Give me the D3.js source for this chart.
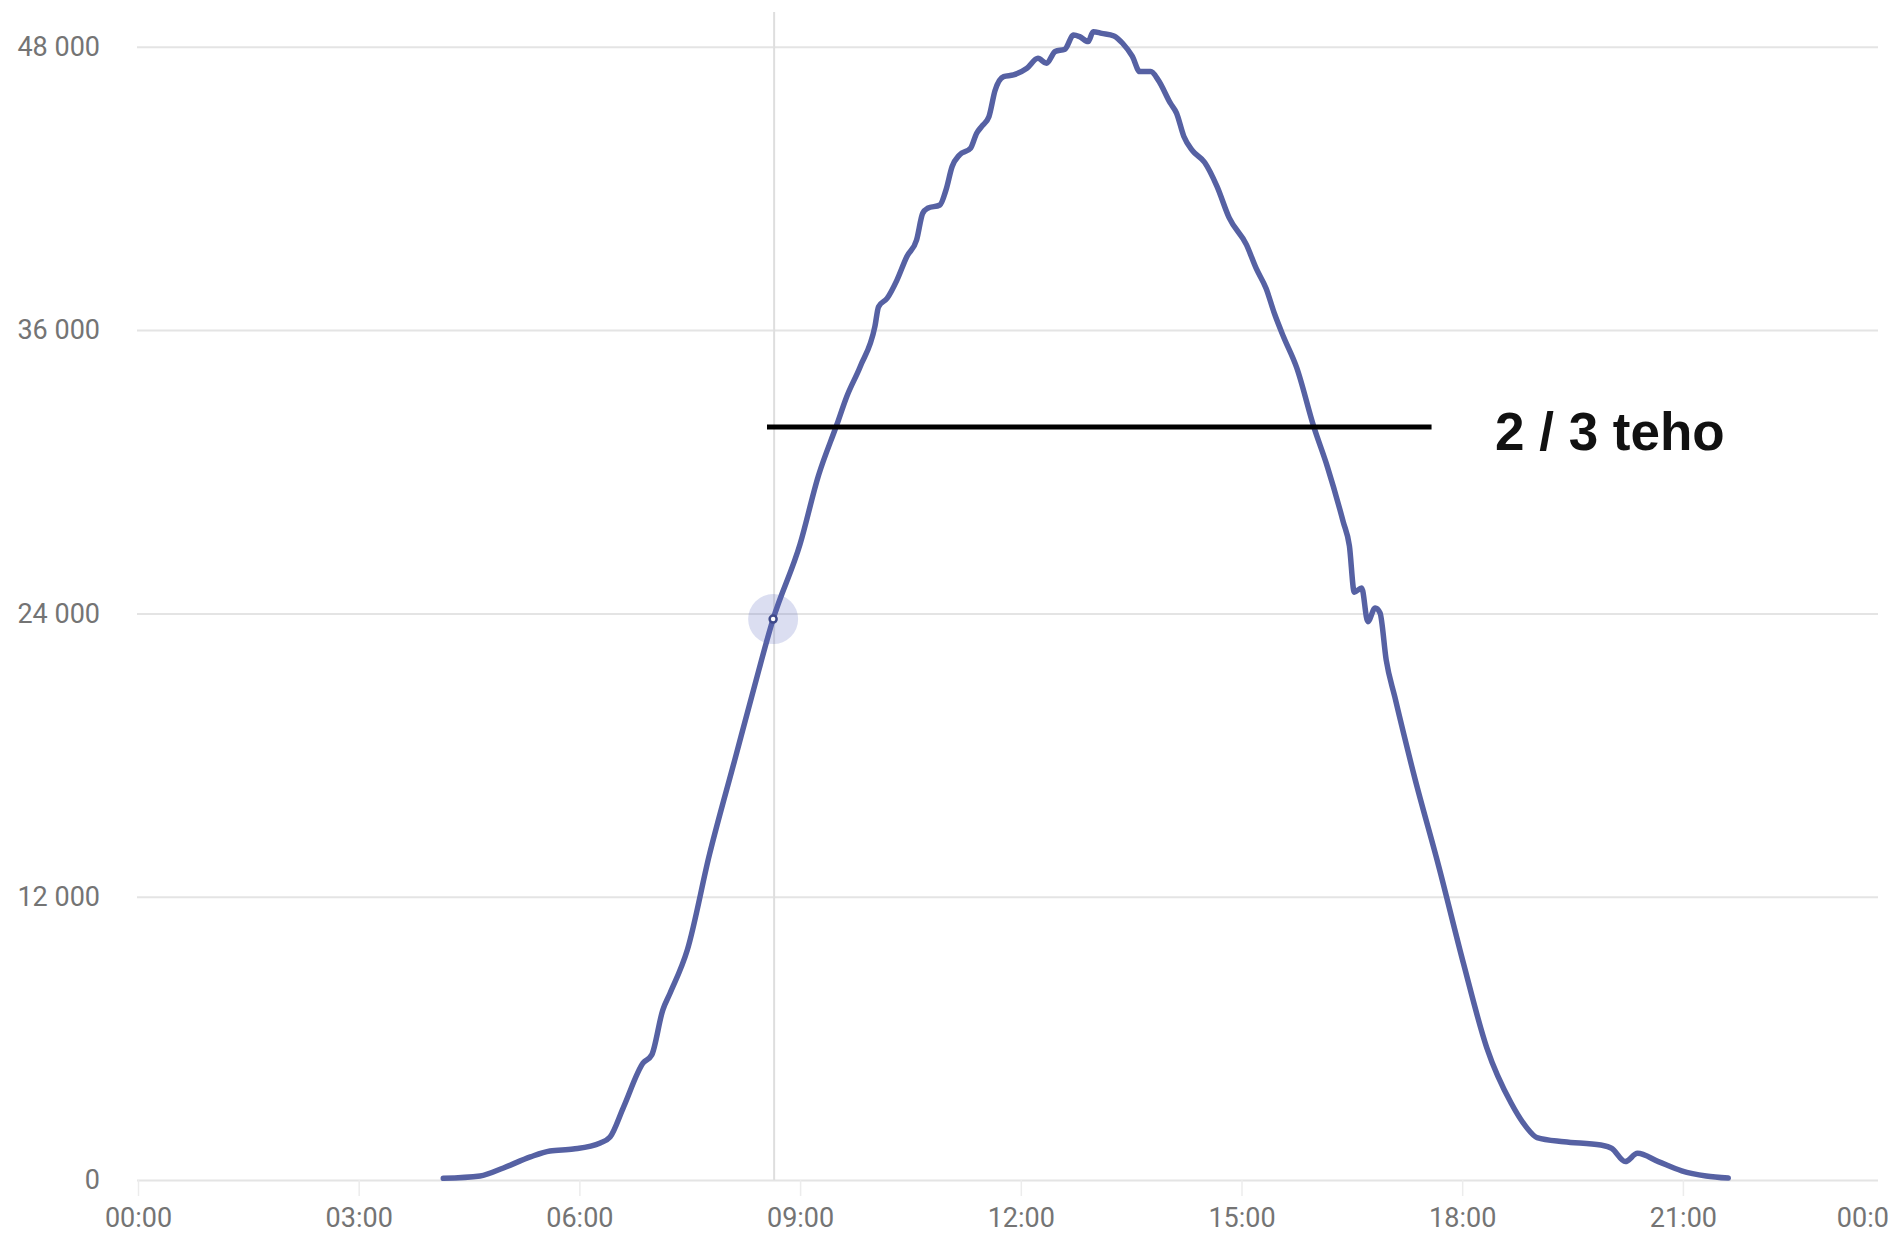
<!DOCTYPE html>
<html>
<head>
<meta charset="utf-8">
<script src="https://cdn.jsdelivr.net/npm/d3@7"></script>
<style>
  html, body { margin: 0; padding: 0; background: #fff; }
  svg { display: block; }
  .axis text { font-family: Roboto, "Noto Sans", sans-serif; font-size: 27px; fill: #747474; }
  .axis .domain { display: none; }
</style>
</head>
<body>
<svg id="chart" width="1888" height="1234"></svg>
<script>
// power readings over one day (time of day, watts)
const times = [
  '04:09', '04:39', '04:58', '05:20', '05:36', '05:55', '06:17', '06:25', '06:36', '06:52',
  '06:59', '07:08', '07:14', '07:28', '07:46', '08:07', '08:22', '08:38', '09:00', '09:15',
  '09:30', '09:38', '09:49', '10:01', '10:04', '10:11', '10:19', '10:27', '10:35', '10:40',
  '10:44', '10:54', '10:59', '11:04', '11:10', '11:19', '11:24', '11:28', '11:34', '11:39',
  '11:46', '11:54', '12:05', '12:14', '12:21', '12:28', '12:36', '12:43', '12:48', '12:55',
  '12:59', '13:06', '13:16', '13:23', '13:31', '13:37', '13:46', '13:52', '14:02', '14:07',
  '14:13', '14:20', '14:30', '14:40', '14:50', '15:04', '15:12', '15:20', '15:27', '15:34',
  '15:45', '15:59', '16:10', '16:23', '16:28', '16:32', '16:38', '16:43', '16:49', '16:53',
  '16:58', '17:05', '17:21', '17:41', '18:01', '18:20', '18:40', '18:52', '19:01', '19:23',
  '19:53', '20:02', '20:13', '20:23', '20:40', '20:59', '21:19', '21:37',
];
const power = [
  70, 170, 510, 980, 1230, 1310, 1570, 1820, 3090, 4960,
  5300, 7200, 7920, 9740, 13770, 17850, 20760, 23760, 26940, 29840,
  32000, 33180, 34450, 36150, 36990, 37350, 38120, 39110, 39820, 40950,
  41160, 41300, 41940, 42930, 43420, 43700, 44340, 44620, 45040, 46150,
  46740, 46810, 47090, 47510, 47300, 47800, 47900, 48500, 48430, 48220,
  48640, 48570, 48460, 48150, 47590, 46950, 46950, 46600, 45610, 45190,
  44200, 43600, 43100, 42090, 40750, 39620, 38610, 37770, 36680, 35750,
  34410, 31900, 30220, 27870, 26860, 24900, 25080, 23650, 24230, 24020,
  22030, 20470, 17090, 13260, 9180, 5610, 3250, 2260, 1800, 1620,
  1480, 1340, 780, 1130, 780, 390, 170, 80,
];

const yTicks = [0, 12000, 24000, 36000, 48000];
const xTicks = ['00:00', '03:00', '06:00', '09:00', '12:00', '15:00', '18:00', '21:00', '24:00'];

// hovered point and the 2/3 power annotation
const hoverTime = '08:38';
const hoverValue = 23760;
const refValue = 31900;
const refStart = '08:33';
const refEnd = '17:35';
const refLabel = '2 / 3 teho';

const toMin = (s) => { const [h, m] = s.split(':').map(Number); return h * 60 + m; };
const data = times.map((t, i) => ({ t: toMin(t), v: power[i] }));

const svg = d3.select('#chart');
const left = 137;
const gridRight = 1878;
const bottom = 1180;

const x = d3.scaleLinear().domain([0, 1440]).range([138, 1903.6]);
const y = d3.scaleLinear().domain([0, 48000]).range([bottom, 46.8]);

const fmt = d3.formatLocale({ decimal: ',', thousands: ' ', grouping: [3], currency: ['', ''] }).format(',d');

// y axis with gridlines
const gy = svg.append('g')
  .attr('class', 'axis')
  .attr('transform', `translate(${left},0)`)
  .call(d3.axisLeft(y).tickValues(yTicks).tickFormat(fmt).tickSize(-(gridRight - left)).tickPadding(37));
gy.selectAll('.tick line').attr('stroke', '#e4e4e4').attr('stroke-width', 2);

// x axis; the last label sits flush against the right edge
const gx = svg.append('g')
  .attr('class', 'axis')
  .attr('transform', `translate(0,${bottom})`)
  .call(d3.axisBottom(x).tickValues(xTicks.map(toMin))
    .tickFormat((d) => (d === 1440 ? '00:00' : xTicks.find((s) => toMin(s) === d)))
    .tickSize(16).tickPadding(12));
gx.selectAll('.tick line').attr('stroke', '#ececec').attr('stroke-width', 1.5);
gx.selectAll('.tick text').filter((d) => d === 1440).attr('text-anchor', 'end');

// crosshair
svg.append('line')
  .attr('x1', x(toMin(hoverTime)) + 1).attr('x2', x(toMin(hoverTime)) + 1)
  .attr('y1', 12).attr('y2', bottom)
  .attr('stroke', '#dedede').attr('stroke-width', 2);

// series
const line = d3.line()
  .x((d) => x(d.t))
  .y((d) => y(d.v))
  .curve(d3.curveMonotoneX);

svg.append('path')
  .datum(data)
  .attr('d', line)
  .attr('fill', 'none')
  .attr('stroke', '#5661a3')
  .attr('stroke-width', 5.5)
  .attr('stroke-linejoin', 'round')
  .attr('stroke-linecap', 'round');

// hovered point
const hx = x(toMin(hoverTime));
const hy = y(hoverValue);
svg.append('circle').attr('cx', hx).attr('cy', hy).attr('r', 25)
  .attr('fill', '#5c6bc0').attr('fill-opacity', 0.22);
svg.append('circle').attr('cx', hx).attr('cy', hy).attr('r', 3.5)
  .attr('fill', '#fff').attr('stroke', '#3f4a8a').attr('stroke-width', 2.5);

// 2/3 annotation
svg.append('line')
  .attr('x1', x(toMin(refStart))).attr('x2', x(toMin(refEnd)))
  .attr('y1', y(refValue)).attr('y2', y(refValue))
  .attr('stroke', '#000').attr('stroke-width', 5);

svg.append('text')
  .attr('x', 1495)
  .attr('y', y(refValue) + 23)
  .attr('font-family', '"Liberation Sans", Arial, sans-serif')
  .attr('font-weight', 'bold')
  .attr('font-size', 53)
  .attr('fill', '#111')
  .text(refLabel);
</script>
</body>
</html>
